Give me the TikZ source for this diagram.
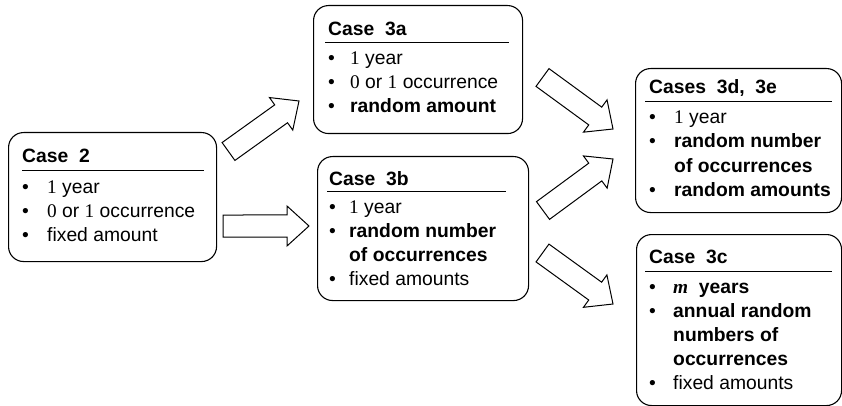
\documentclass[tikz,border=0pt]{standalone}
\usepackage{fontspec}
\setmainfont{Liberation Sans}
\newfontfamily\numfont{Liberation Serif}
\usetikzlibrary{calc}

\newcommand{\nm}[1]{{\numfont #1}}

\tikzset{
  casebox/.style={draw, line width=1.1pt, rounded corners=15pt, inner sep=0pt,
    anchor=north west},
  headrule/.style={line width=0.9pt},
  txt/.style={anchor=base west, inner sep=0pt, font=\fontsize{19.3}{24}\selectfont},
  fat/.style={draw, line width=1pt, fill=white, line join=miter,
    to path={
      ($(\tikztostart)!11pt!90:(\tikztotarget)$)
      -- ($(\tikztotarget)!24.6pt!-26.57:(\tikztostart)$)
      -- ($(\tikztotarget)!29.73pt!-42.27:(\tikztostart)$)
      -- (\tikztotarget)
      -- ($(\tikztotarget)!29.73pt!42.27:(\tikztostart)$)
      -- ($(\tikztotarget)!24.6pt!26.57:(\tikztostart)$)
      -- ($(\tikztostart)!11pt!-90:(\tikztotarget)$)
      -- cycle}}
}

\begin{document}
\begin{tikzpicture}[x=1pt, y=-1pt]
\useasboundingbox (0,0) rectangle (842,406);

% ---- boxes ----
\node[casebox, minimum width=208pt, minimum height=129pt] (c2)  at (8,132) {};
\node[casebox, minimum width=209pt, minimum height=128pt] (c3a) at (313,5) {};
\node[casebox, minimum width=211pt, minimum height=144pt] (c3b) at (317,156) {};
\node[casebox, minimum width=206pt, minimum height=144pt] (c3d) at (635,68) {};
\node[casebox, minimum width=205pt, minimum height=171pt] (c3c) at (636,234) {};

% ---- Case 2 ----
\node[txt] (c2h) at (22,163) {\bfseries Case\ \ 2};
\draw[headrule] (22,170) -- (204,170);
\node[txt] (c2b1) at (22,193) {\textbullet};
\node[txt] (c2t1) at (47,193) {\nm{1} year};
\node[txt] (c2b2) at (22,217) {\textbullet};
\node[txt] (c2t2) at (47,217) {\nm{0} or \nm{1} occurrence};
\node[txt] (c2b3) at (22,241) {\textbullet};
\node[txt] (c2t3) at (47,241) {fixed amount};

% ---- Case 3a ----
\node[txt] (c3ah) at (328,36) {\bfseries Case\ \ 3a};
\draw[headrule] (325,42) -- (509,42);
\node[txt] (c3ab1) at (328,65) {\textbullet};
\node[txt] (c3at1) at (350,65) {\nm{1} year};
\node[txt] (c3ab2) at (328,89) {\textbullet};
\node[txt] (c3at2) at (350,89) {\nm{0} or \nm{1} occurrence};
\node[txt] (c3ab3) at (328,113) {\textbullet};
\node[txt] (c3at3) at (350,113) {\bfseries random amount};

% ---- Case 3b ----
\node[txt] (c3bh) at (329,185) {\bfseries Case\ \ 3b};
\draw[headrule] (327,191) -- (506,191);
\node[txt] (c3bb1) at (329,213) {\textbullet};
\node[txt] (c3bt1) at (349,213) {\nm{1} year};
\node[txt] (c3bb2) at (329,237) {\textbullet};
\node[txt] (c3bt2) at (349,237) {\bfseries random number};
\node[txt] (c3bt3) at (349,261) {\bfseries of occurrences};
\node[txt] (c3bb4) at (329,285) {\textbullet};
\node[txt] (c3bt4) at (349,285) {fixed amounts};

% ---- Cases 3d, 3e ----
\node[txt] (c3dh) at (649,94) {\bfseries Cases\ \ 3d,\ \ 3e};
\draw[headrule] (645,101) -- (832,101);
\node[txt] (c3db1) at (649,124) {\textbullet};
\node[txt] (c3dt1) at (674,124) {\nm{1} year};
\node[txt] (c3db2) at (649,148) {\textbullet};
\node[txt] (c3dt2) at (674,148) {\bfseries random number};
\node[txt] (c3dt3) at (674,172) {\bfseries of occurrences};
\node[txt] (c3db4) at (649,196) {\textbullet};
\node[txt] (c3dt4) at (674,196) {\bfseries random amounts};

% ---- Case 3c ----
\node[txt] (c3ch) at (649,263) {\bfseries Case\ \ 3c};
\draw[headrule] (645,271) -- (832,271);
\node[txt] (c3cb1) at (649,293) {\textbullet};
\node[txt] (c3ct1) at (673,293) {{\numfont\bfseries\itshape m}\ \ \bfseries years};
\node[txt] (c3cb2) at (649,317) {\textbullet};
\node[txt] (c3ct2) at (673,317) {\bfseries annual random};
\node[txt] (c3ct3) at (673,341) {\bfseries numbers of};
\node[txt] (c3ct4) at (673,365) {\bfseries occurrences};
\node[txt] (c3cb5) at (649,389) {\textbullet};
\node[txt] (c3ct5) at (673,389) {fixed amounts};

% ---- block arrows ----
\coordinate (a1s) at (228.5,151.5); \coordinate (a1t) at (299,101);
\coordinate (a2s) at (223,226);     \coordinate (a2t) at (309,226);
\coordinate (a3s) at (542.5,77.5);  \coordinate (a3t) at (613,129);
\coordinate (a4s) at (543,210.5);   \coordinate (a4t) at (613,159);
\coordinate (a5s) at (542.5,253);   \coordinate (a5t) at (613,304);

\draw[fat] (a1s) to (a1t);
\draw[fat] (a2s) to (a2t);
\draw[fat] (a3s) to (a3t);
\draw[fat] (a4s) to (a4t);
\draw[fat] (a5s) to (a5t);
\end{tikzpicture}
\end{document}
